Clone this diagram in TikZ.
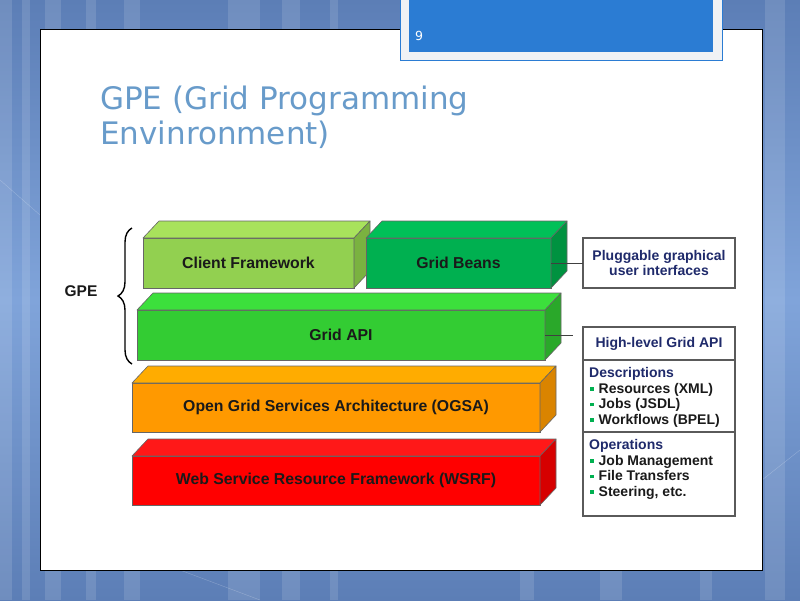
\documentclass[tikz,border=0pt]{standalone}
\usepackage{fontspec}
\setmainfont{Liberation Sans}
\newfontfamily\titlefont{DejaVu Sans}
\usetikzlibrary{decorations.pathreplacing}

\definecolor{bgtop}{RGB}{92,126,182}
\definecolor{bgmid}{RGB}{128,164,218}
\definecolor{titleblue}{RGB}{104,155,202}
\definecolor{numblue}{RGB}{43,124,211}
\definecolor{numframe}{RGB}{240,242,245}
\definecolor{navy}{RGB}{31,42,107}
\definecolor{boxtext}{RGB}{26,26,26}
\definecolor{framegray}{RGB}{90,90,90}
\definecolor{bulgreen}{RGB}{0,176,80}
\definecolor{cfFront}{RGB}{146,208,80}
\definecolor{cfTop}{RGB}{168,226,92}
\definecolor{cfSide}{RGB}{122,178,64}
\definecolor{gbFront}{RGB}{0,176,80}
\definecolor{gbTop}{RGB}{0,192,88}
\definecolor{gbSide}{RGB}{0,146,64}
\definecolor{apiFront}{RGB}{51,204,51}
\definecolor{apiTop}{RGB}{60,224,60}
\definecolor{apiSide}{RGB}{42,168,42}
\definecolor{ogFront}{RGB}{255,153,0}
\definecolor{ogTop}{RGB}{255,172,0}
\definecolor{ogSide}{RGB}{218,132,0}
\definecolor{wsFront}{RGB}{255,0,0}
\definecolor{wsTop}{RGB}{255,24,24}
\definecolor{wsSide}{RGB}{214,0,0}

% top and side faces of a block: node, top colour, side colour
\newcommand{\slabfaces}[3]{%
  \filldraw[facet, fill=#2] (#1.north west) -- ([shift={(16,-17)}]#1.north west)
    -- ([shift={(16,-17)}]#1.north east) -- (#1.north east) -- cycle;
  \filldraw[facet, fill=#3] (#1.north east) -- ([shift={(16,-17)}]#1.north east)
    -- ([shift={(16,-17)}]#1.south east) -- (#1.south east) -- cycle;}
\newcommand{\gbul}{\hspace{1pt}\textcolor{bulgreen}{\rule[2.5pt]{3.5pt}{3.5pt}}\hspace{5pt}}

\begin{document}
\begin{tikzpicture}[x=1pt, y=-1pt,
    slab/.style={draw=black!60, line width=0.6pt, minimum height=50pt, inner sep=0pt,
      outer sep=0pt, text=boxtext, font=\bfseries\fontsize{15.8}{18}\selectfont},
    facet/.style={draw=black!60, line width=0.6pt, line join=round},
    infobox/.style={draw=framegray, line width=1.1pt, fill=white, minimum width=152pt,
      inner sep=0pt, outer sep=0pt, text=navy, align=center,
      font=\bfseries\fontsize{14}{15.7}\selectfont},
    listtext/.style={anchor=north west, inner sep=0pt, align=left, text=boxtext,
      font=\bfseries\fontsize{14}{15.7}\selectfont},
    link/.style={draw=black!75, line width=0.8pt}]
    \useasboundingbox (0,0) rectangle (800,600);

    % slide background
    \shade[top color=bgtop, bottom color=bgtop, middle color=bgmid] (0,0) rectangle (800,600);
    \foreach \sx/\sw in {0/12, 22/8, 45/16, 86/10, 124/16, 228/32, 282/18, 330/8, 520/14, 600/22, 700/12, 765/20}
        \fill[white, opacity=0.12] (\sx,0) rectangle (\sx+\sw,600);
    \draw[white, opacity=0.25] (0,180) -- (40,215);
    \draw[white, opacity=0.25] (762,480) -- (800,450);
    \draw[white, opacity=0.25] (180,570) -- (260,600);
    \filldraw[fill=white, draw=black, line width=0.8pt] (40,29) rectangle (762,570);

    % page number tab
    \filldraw[fill=numframe, draw=numblue, line width=0.8pt] (400,-5) rectangle (722,60);
    \fill[numblue] (409,-5) rectangle (713,52);
    \node[text=white, font=\titlefont\fontsize{12.5}{14}\selectfont] (pagenum) at (419,36) {9};

    % title
    \node[anchor=base west, inner sep=0pt, text=titleblue, font=\titlefont\fontsize{31}{35}\selectfont]
        (title) at (100,109) {GPE (Grid Programming};
    \node[anchor=base west, inner sep=0pt, text=titleblue, font=\titlefont\fontsize{31}{35}\selectfont]
        (titlecont) at (100,144) {Envinronment)};

    % layers
    \node[slab, fill=cfFront, minimum width=211pt] (client) at (248.5,263) {Client Framework};
    \slabfaces{client}{cfTop}{cfSide}
    \node[slab, fill=gbFront, minimum width=185pt] (beans) at (458.5,263) {Grid Beans};
    \slabfaces{beans}{gbTop}{gbSide}
    \node[slab, fill=apiFront, minimum width=408pt] (api) at (341,335) {Grid API};
    \slabfaces{api}{apiTop}{apiSide}
    \node[slab, fill=ogFront, minimum width=408pt, minimum height=49pt] (ogsa) at (336,407.5)
        {Open Grid Services Architecture (OGSA)};
    \slabfaces{ogsa}{ogTop}{ogSide}
    \node[slab, fill=wsFront, minimum width=408pt, minimum height=49pt] (wsrf) at (336,480.5)
        {Web Service Resource Framework (WSRF)};
    \slabfaces{wsrf}{wsTop}{wsSide}

    % GPE brace
    \coordinate (bracetop) at (132,228);
    \coordinate (bracebot) at (132,364);
    \draw[line width=1.4pt, decorate, decoration={brace, amplitude=14pt}] (bracebot) -- (bracetop);
    \node[font=\bfseries\fontsize{15.5}{18}\selectfont, text=boxtext] (gpe) at (81,291) {GPE};

    % notes on the right
    \node[infobox, minimum height=50pt] (plug) at (659,263) {Pluggable graphical\\user interfaces};
    \node[infobox, minimum height=33pt] (hlapi) at (659,343.5) {High-level Grid API};
    \node[infobox, minimum height=72pt, anchor=north] (desc) at (hlapi.south) {};
    \node[infobox, minimum height=84pt, anchor=north] (ops) at (desc.south) {};
    \node[listtext] (desctext) at ([shift={(6,7)}]desc.north west)
        {\textcolor{navy}{Descriptions}\\ \gbul Resources (XML)\\ \gbul Jobs (JSDL)\\ \gbul Workflows (BPEL)};
    \node[listtext] (opstext) at ([shift={(6,7)}]ops.north west)
        {\textcolor{navy}{Operations}\\ \gbul Job Management\\ \gbul File Transfers\\ \gbul Steering, etc.};

    \coordinate (apiend) at (573,335);
    \draw[link] (beans.east) -- (plug.west);
    \draw[link] (api.east) -- (apiend);
\end{tikzpicture}
\end{document}
